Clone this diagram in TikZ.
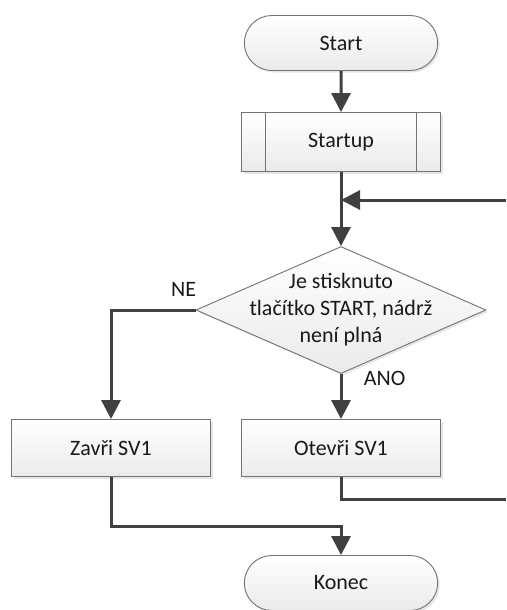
\documentclass[tikz,border=0pt]{standalone}
\usepackage{fontspec}
\setmainfont{Carlito}
\usetikzlibrary{positioning,shapes.geometric,shapes.misc,arrows.meta,shadows}

\tikzset{
  base/.style={draw=black!55, line width=0.9pt, top color=white, bottom color=black!8,
    drop shadow={shadow xshift=2pt, shadow yshift=-2pt, opacity=0.2},
    text=black!90, font=\fontsize{22}{27}\selectfont},
  term/.style={base, rounded rectangle, minimum width=200pt, minimum height=55pt},
  proc/.style={base, rectangle, minimum width=199pt, minimum height=57pt},
  subproc/.style={proc, minimum height=59pt,
    path picture={\draw[black!55, line width=0.9pt]
      ([xshift=24pt]path picture bounding box.north west) -- ([xshift=24pt]path picture bounding box.south west)
      ([xshift=-24pt]path picture bounding box.north east) -- ([xshift=-24pt]path picture bounding box.south east);}},
  dec/.style={base, diamond, minimum width=290pt, minimum height=127pt, inner sep=0pt},
  wire/.style={color=black!75, line width=3pt},
  flow/.style={wire, -{Triangle[width=19pt,length=19pt]}},
  lbl/.style={text=black!90, font=\fontsize{22}{27}\selectfont}
}

\begin{document}
\begin{tikzpicture}[x=1pt,y=-1pt,node distance=100pt,on grid]
   \useasboundingbox (0,0) rectangle (506,610);
   \node[term] (start) at (341,43) {Start};
   \node[subproc] (startup) [below=99pt of start] {Startup};
   \coordinate[below=58pt of startup] (join);
   \node[dec, label={[lbl, align=center]center:{Je stisknuto\\tlačítko START, nádrž\\není plná}}] (dec) [below=168pt of startup] {};
   \node[proc] (otev) [below=138pt of dec] {Otevři SV1};
   \node[proc] (zav) [left=230pt of otev] {Zavři SV1};
   \node[term] (konec) [below=135pt of otev] {Konec};
   \coordinate (loopin) at (506,200);
   \coordinate (loopout) at (506,499);
    \path[flow]
    (start) edge (startup)
    (startup) edge (dec)
    (loopin) edge (join);
    \draw[flow] (dec.south) -- node[lbl, pos=0.1, right=18pt] {ANO} (otev);
    \draw[flow] (dec.west) -| node[lbl, pos=0.07, above=9pt] {NE} (zav);
    \draw[wire] (otev.south) |- (loopout);
    \draw[flow] (zav.south) |- ([yshift=29pt]konec.north) -- (konec.north);
\end{tikzpicture}
\end{document}
